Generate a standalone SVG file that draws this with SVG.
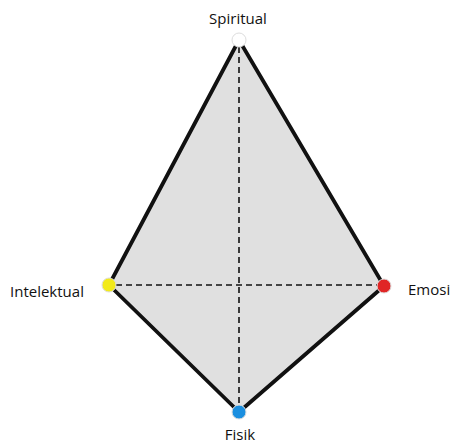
<svg xmlns="http://www.w3.org/2000/svg" width="454" height="448" viewBox="0 0 454 448">
<style>
.lbl{font-family:"Open Sans","Liberation Sans",sans-serif;font-size:15px;font-weight:500;fill:#111}
.dash{stroke:#111;stroke-width:1.6;stroke-dasharray:6,4;fill:none}
.vtx{stroke:#ddd;stroke-width:1}
</style>
<rect width="454" height="448" fill="#fff"/>
<g id="shape">
<polygon points="239,40 384,286 239,412 109,285" fill="#e0e0e0" stroke="#111" stroke-width="3.8" stroke-linejoin="round"/>
</g>
<g id="connectors">
<line class="dash" x1="239" y1="47" x2="239" y2="405"/>
<line class="dash" x1="116" y1="285" x2="377" y2="285"/>
</g>
<g id="spiritual">
<circle class="vtx" cx="239" cy="40" r="7" fill="#fff" stroke="#aaa"/>
<text class="lbl" x="238" y="24" text-anchor="middle">Spiritual</text>
</g>
<g id="intelektual">
<circle class="vtx" cx="109" cy="285" r="7" fill="#f2ea1a"/>
<text class="lbl" x="10" y="297">Intelektual</text>
</g>
<g id="emosi">
<circle class="vtx" cx="384" cy="286" r="7" fill="#e02626"/>
<text class="lbl" x="408" y="295">Emosi</text>
</g>
<g id="fisik">
<circle class="vtx" cx="239" cy="412" r="7" fill="#1a8fe0"/>
<text class="lbl" x="240" y="440" text-anchor="middle">Fisik</text>
</g>
</svg>
